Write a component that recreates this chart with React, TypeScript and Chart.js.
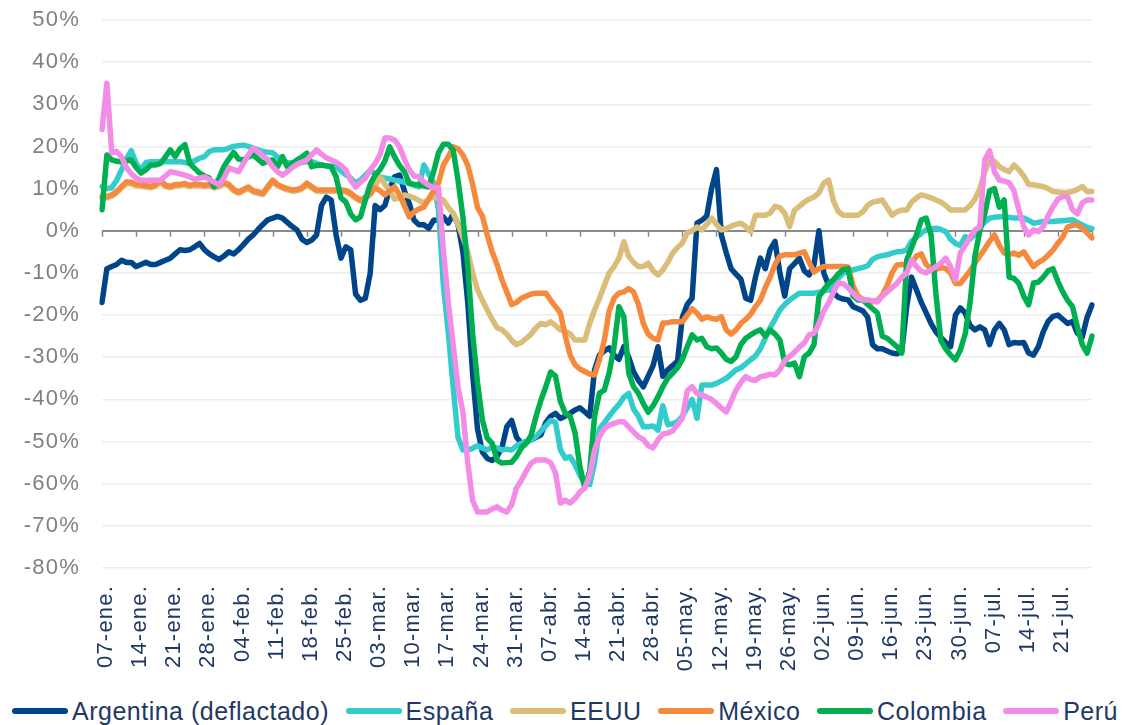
import React, { useEffect, useRef } from "react";
import { Chart, registerables } from "chart.js";

Chart.register(...registerables);

const tickLabels = [
  "07-ene.", "14-ene.", "21-ene.", "28-ene.", "04-feb.", "11-feb.", "18-feb.", "25-feb.",
  "03-mar.", "10-mar.", "17-mar.", "24-mar.", "31-mar.", "07-abr.", "14-abr.", "21-abr.",
  "28-abr.", "05-may.", "12-may.", "19-may.", "26-may.", "02-jun.", "09-jun.", "16-jun.",
  "23-jun.", "30-jun.", "07-jul.", "14-jul.", "21-jul.",
];

const monthNames = ["ene.", "feb.", "mar.", "abr.", "may.", "jun.", "jul.", "ago.", "sep.", "oct.", "nov.", "dic."];

const argentina = [
  -17, -9, -8.5, -8, -7, -7.5, -7.5,
  -8.5, -8, -7.5, -8, -8, -7.5, -7,
  -6.5, -5.5, -4.5, -4.7, -4.5, -3.8, -3,
  -4.5, -5.5, -6.2, -6.8, -6, -5, -5.5,
  -4.5, -3.3, -2, -1, 0.3, 1.5, 2.6,
  3, 3.4, 3, 2, 1, 0.2, -2,
  -2.8, -2.2, -1, 6, 8, 7.3, -1,
  -6.5, -3.8, -4.5, -15, -16.5, -16, -10,
  6, 5, 6, 10, 12.8, 13.2, 9.5,
  6.5, 2.5, 1.4, 1.4, 0.6, 2.5, 2.5,
  3.3, 1.8, 4, 1.5, -5, -17, -34,
  -47, -52.5, -54, -54.5, -53.5, -51.5, -46.5,
  -45, -49, -50.4, -50, -49.6, -49, -48.4,
  -45.5, -44, -43.3, -44.5, -44, -43.3, -42.5,
  -42, -43, -44, -33, -29.5, -28.5, -27.8,
  -29.5, -30.5, -27.5, -30, -33.5, -35.5, -37,
  -34.5, -32, -27.5, -34.5, -33, -32, -31,
  -20.5, -17.5, -16, 1.8, 2.5, 3.5, 10,
  14.5, -1, -5.2, -9, -10.3, -11.5, -16,
  -16.5, -11, -6.5, -9, -4.5, -2.5, -10,
  -15.5, -9, -7.8, -6.5, -9.5, -10.5, -8,
  0, -10, -13, -14.8, -15.8, -16.2, -16.4,
  -18, -18.5, -19, -20.5, -27, -28, -28,
  -28.5, -29, -29.2, -28.5, -18, -11, -14,
  -17, -19.5, -22, -24, -25.3, -26.5, -27.5,
  -20, -18.3, -19.5, -22.5, -23.5, -22.8, -23.5,
  -27, -23.5, -22, -23.5, -27, -26.5, -26.6,
  -26.5, -29, -29.5, -27.5, -24, -21.5, -20.3,
  -20, -21, -22, -21.5, -24.3, -25.2, -20.5,
  -17.6,
];

const espana = [
  10.5, 10, 10.2, 12, 14.4, 17, 19,
  16, 14.4, 16.2, 16.4, 16.4, 16.4, 16.4,
  16.4, 16.4, 16.4, 16.2, 16, 16.6, 17.2,
  17.6, 18.8, 19.2, 19.2, 19.2, 19.6, 20,
  20.2, 20.3, 20, 19.6, 19.2, 18.8, 18.6,
  18.5, 17.5, 16.6, 16.2, 16, 16, 16.2,
  16.4, 16.4, 16, 15.6, 15.4, 15.3, 15.2,
  14.2, 13.3, 12.5, 11.3, 12, 13.2, 14.4,
  13.5, 12.8, 12.5, 12.3, 12, 11.8, 11.5,
  11.2, 10.8, 10.4, 15.6, 13.5, 11.3, 5,
  -13, -24, -37, -49, -52, -52, -51.6,
  -51, -51.5, -52, -51.3, -51.5, -52, -51.8,
  -52, -51, -50.4, -50, -49.6, -48.8, -47.5,
  -46.3, -45, -45.5, -52, -54, -53.6, -55.5,
  -58, -60, -60.2, -55, -47, -45.5, -44,
  -42.5, -41.2, -39.5, -38.6, -42.3, -44, -46.5,
  -46.5, -46.3, -47.3, -41.5, -46, -45.8, -45.3,
  -44, -42, -40, -44.5, -36.6, -36.6, -36.6,
  -36.2, -35.6, -35, -34, -33, -32.5, -31.6,
  -30.6, -29.7, -28, -25.5, -23, -21, -18.8,
  -17.5, -16.4, -15.6, -14.8, -14.8, -14.8, -14.8,
  -14.6, -14.3, -14, -12.8, -11.3, -10, -9.6,
  -9.3, -9, -8.7, -8.3, -6.8, -6.2, -5.9,
  -5.7, -5.3, -5, -4.9, -4.6, -2.5, -1.5,
  -0.5, 0.2, 0.4, 0.6, 0.3, -0.2, -2,
  -3, -3.5, -1.4, -2, -0.8, 0.9, 2,
  3, 3.2, 3.3, 3.3, 3.2, 3, 3,
  3, 2.5, 1.8, 2, 2.2, 2.2, 2.2,
  2.3, 2.4, 2.5, 2.6, 2, 1.4, 0.8,
  0.5,
];

const eeuu = [
  7.8, 7.8, 8.2, 9, 10.2, 11.2, 11.1,
  10.7, 10.6, 10.4, 10.2, 10.6, 11.5, 10.5,
  10.2, 10.7, 10.7, 10.9, 10.5, 10.7, 10.7,
  10.5, 10.7, 10.2, 10.5, 11.1, 10.7, 9.5,
  8.9, 9.5, 10, 9.2, 8.9, 8.6, 10.1,
  11.5, 10.7, 10.1, 9.7, 9.4, 9.5, 9.9,
  10.9, 10.2, 9.4, 9.4, 9.4, 9.4, 9.4,
  9.4, 9.2, 8.6, 7.7, 7, 7.7, 8.6,
  10.5, 12.8, 11, 9.7, 7.5, 7.8, 8.5,
  8.2, 7.8, 7.2, 6.6, 7.5, 8, 7.6,
  7.3, 5.5, 4.2, 1.5, -1.5, -5, -10,
  -14, -16.5, -18.8, -21, -23, -23.5, -24.5,
  -26, -27, -26.5, -25.5, -24.5, -23, -22,
  -22.3, -21.6, -22.5, -23.5, -23.8, -24.5, -25.9,
  -25.9, -25.9, -22, -18.8, -16, -13, -10,
  -8.5, -6.5, -2.6, -6, -7.5, -8.5, -8.5,
  -7.7, -9.5, -10.5, -9.3, -7.5, -5.3, -4,
  -2.9, -0.5, 0, 0.9, 0.2, 1.5, 3,
  1.5, 0.2, 0.5, 1.1, 1.5, 1.8, 1,
  -0.2, 3.7, 3.7, 3.7, 4.2, 5.8, 5.5,
  4.2, 1, 4.9, 5.8, 6.8, 7.5, 8,
  9, 11.3, 12, 7, 4.5, 3.7, 3.7,
  3.7, 3.7, 4.5, 6, 6.8, 7, 7.3,
  5.5, 3.7, 4.5, 4.9, 4.9, 6.8, 7.8,
  8.5, 8.2, 7.8, 7.3, 6.8, 6, 4.9,
  4.9, 4.9, 4.9, 6, 7.5, 10, 14,
  16.5, 16.5, 15.2, 14.5, 14, 15.6, 14.5,
  13, 11, 10.9, 10.7, 10.5, 10, 9.3,
  9.2, 9, 9.1, 9.3, 9.8, 10.5, 9.3,
  9.3,
];

const mexico = [
  8.1, 8.1, 8.5, 9.3, 10.5, 11.6, 11.5,
  11, 10.9, 10.7, 10.5, 11, 12, 10.8,
  10.5, 11, 11, 11.2, 10.8, 11, 11,
  10.8, 11, 10.5, 10.8, 11.5, 11, 9.8,
  9.2, 9.8, 10.4, 9.5, 9.2, 8.9, 10.5,
  12, 11, 10.4, 10, 9.7, 9.8, 10.2,
  11.3, 10.5, 9.7, 9.7, 9.7, 9.7, 9.7,
  9.7, 9.5, 8.9, 8, 7.3, 8, 8.9,
  10.2, 9.5, 8.5, 9.5, 10.4, 8.5, 6,
  3.3, 4.5, 5.2, 5.6, 7.5, 9.5, 11.3,
  15.6, 17.5, 19.9, 19.5, 18, 15.5, 11,
  5.5, 3.5, -1, -5, -8, -11.6, -14.5,
  -17.5, -17, -16, -15.5, -15, -14.8, -14.8,
  -14.8, -16.5, -18, -19.5, -25, -29.5, -31.8,
  -32.8, -33.4, -34, -34.2, -30.6, -26, -19,
  -16, -14.8, -14.5, -13.7, -14.5, -17.5, -22,
  -24.5, -25.5, -25.9, -21.9, -21.8, -21.6, -21.6,
  -21.6, -20, -18.5, -19.5, -21, -20.4, -20.8,
  -21, -20.4, -23.5, -24.5, -23.5, -22, -21,
  -19.8, -18, -16.5, -13.5, -11, -8, -6,
  -5.7, -5.7, -5.7, -5.3, -5, -7.5, -9.8,
  -9, -8.5, -8.5, -8.5, -8.5, -8.5, -8.6,
  -13, -15.5, -16.3, -16.6, -16.9, -16.5, -15.3,
  -13, -10, -8.1, -8, -8.1, -7.8, -6,
  -5.5, -8, -9, -9.2, -8.7, -9, -10,
  -12.5, -12.5, -11, -9.5, -7.7, -6, -4.3,
  -2.5, -1, -3.5, -5.3, -5.6, -5.3, -5.8,
  -5, -6.8, -8.5, -7.5, -6.9, -5.8, -4.6,
  -3, -1.5, 0.9, 1.3, 1.4, 0.6, -0.5,
  -1.7,
];

const colombia = [
  5, 18, 16.8, 16.5, 16.4, 16.6, 16.8,
  15, 13.7, 14.5, 15.6, 15.6, 16, 17.5,
  19.2, 17.6, 19.5, 20.4, 16, 14.8, 13.7,
  13, 12.5, 10.5, 12.5, 15.2, 17, 18.6,
  17, 16.8, 17.5, 18, 17, 16, 16.5,
  16.8, 15.2, 17.6, 15.2, 16, 16.8, 17.5,
  18.4, 15.2, 15.5, 15.6, 15.4, 15.2, 12.8,
  7.8, 6.8, 4, 2.6, 3.3, 7.3, 11,
  13.2, 14.5, 16.5, 19.9, 17.5, 15.5, 14,
  11.3, 11, 10.9, 10.6, 10.4, 14, 18.5,
  20.5, 20.5, 19.2, 12, 3.3, -8.5, -24.3,
  -36, -44.9, -49.2, -50.4, -54.4, -55.1, -55,
  -54.9, -53.5, -51.5, -50.4, -48.5, -44, -40.2,
  -37, -33.5, -34.5, -40.5, -43.3, -44, -48,
  -56, -61, -57, -44, -38.5, -37.8, -33.7,
  -27.5, -18, -20.4, -33.7, -37, -38.6, -41,
  -43, -41.5, -39.4, -37, -35, -33.8, -32.5,
  -30.5, -27.5, -24.7, -25.9, -25.5, -27.5, -28,
  -27.8, -29, -30.5, -31, -29.9, -27, -25.5,
  -24.7, -24, -23.5, -25, -23.5, -24.5, -25.9,
  -31.4, -31.8, -31.4, -34.6, -29.9, -29, -27,
  -15.7, -14, -12.5, -11.6, -10.2, -9.2, -9,
  -15.5, -16.4, -16.4, -17.5, -18.5, -19.5, -25,
  -25.5, -26.5, -27.5, -29, -7, -4, -1,
  2.6, 3, -1, -15, -26, -28, -29.5,
  -30.6, -28.3, -24.5, -17, -6, 0, 4,
  9.5, 10, 5.6, 7.3, -11, -11.3, -12.5,
  -15.5, -17.6, -12.4, -12.2, -11, -9.5, -9,
  -12, -14.5, -16.5, -18, -22.8, -27, -29,
  -25,
];

const peru = [
  24, 35, 18.5, 18.8, 17.5, 15, 13.5,
  12.5, 12, 12, 12, 12, 12, 13,
  14, 13.8, 13.5, 13.2, 12.8, 12.2, 12.5,
  12.8, 12.2, 11.5, 10.9, 12.5, 14.9, 14.5,
  14, 16, 18, 19.6, 18.8, 17.8, 16.8,
  15.2, 14, 13.2, 14, 15, 15.8, 16.3,
  16.8, 18, 19.2, 18.2, 17.3, 16.8, 16.3,
  15.5, 14.4, 12, 10.4, 11.5, 12.5, 14.4,
  16, 18, 22, 22, 21.5, 19.9, 17,
  14.5, 13, 12.8, 11.6, 10.8, 10.2, 10.2,
  -4.6, -17, -27, -37, -43, -55, -64,
  -66.7, -66.7, -66.7, -66, -65.5, -66.3, -66.7,
  -65, -61, -59.2, -57, -55.1, -54.4, -54.4,
  -54.4, -55, -57.5, -64.6, -63.9, -64.6, -63.5,
  -62, -61, -58, -52, -48.9, -47, -46.1,
  -45.7, -45.3, -45.3, -46.5, -47.7, -48.9, -49.5,
  -51, -51.5, -49.6, -48.2, -48, -47.5, -46,
  -44.5, -38, -37, -38.6, -39, -39.4, -40,
  -41, -42, -43, -40.5, -37.8, -36, -34.6,
  -35.3, -35.5, -34.6, -34.4, -34, -34.2, -33,
  -30.8, -29.8, -28.8, -27.6, -26.6, -24.7, -24.3,
  -22, -19, -17.1, -14.5, -12.3, -12.6, -13.5,
  -14.8, -16, -16.4, -16.4, -16.6, -16.9, -15.5,
  -14.5, -13.5, -12.5, -11, -10, -6.9, -8.5,
  -9.6, -10, -9.3, -8.5, -7.7, -6.5, -8.5,
  -11.6, -5.3, -3.5, -1.5, 0.2, 0.9, 16.8,
  19, 14, 12, 11.8, 11.4, 9.5, 5,
  1, -1, 0.2, -0.2, 1, 3.5, 5.7,
  7.5, 8.1, 8.1, 5, 4, 6.6, 7.3,
  7.3,
];

const seriesNames = ["Argentina (deflactado)", "España", "EEUU", "México", "Colombia", "Perú"];
const seriesData = [argentina, espana, eeuu, mexico, colombia, peru];
const seriesColors = ["#00458A", "#33CCCC", "#D9BD78", "#F58A3D", "#00AF50", "#F38CE6"];

const dayCount = argentina.length;
const categories = Array.from({ length: dayCount }, (_, i) => {
  const d = new Date(2020, 0, 7 + i);
  return String(d.getDate()).padStart(2, "0") + "-" + monthNames[d.getMonth()];
});

const FONT = '"Liberation Sans", Arial, Helvetica, sans-serif';
const AXIS_COLOR = "#8A8A8A";

const axisTextSpacing = {
  id: "axisTextSpacing",
  beforeDraw(chart: any) {
    chart.ctx.letterSpacing = "1.2px";
  },
  beforeDatasetsDraw(chart: any) {
    chart.ctx.letterSpacing = "0px";
  },
};

const zeroTicks = {
  id: "zeroTicks",
  beforeDatasetsDraw(chart: any) {
    const { ctx, scales } = chart;
    const x = scales.x;
    const y = scales.y;
    const y0 = y.getPixelForValue(0);
    ctx.save();
    ctx.strokeStyle = AXIS_COLOR;
    ctx.lineWidth = 1.5;
    ctx.beginPath();
    for (let i = 0; i < categories.length; i++) {
      if (i % 7 === 0 || i === categories.length - 1) {
        const px = Math.round(x.getPixelForValue(i)) + 0.5;
        ctx.moveTo(px, y0);
        ctx.lineTo(px, y0 + 6);
      }
    }
    ctx.stroke();
    ctx.restore();
  },
};

export default function App() {
  const canvasRef = useRef<HTMLCanvasElement | null>(null);

  useEffect(() => {
    if (!canvasRef.current) return;
    Chart.defaults.font.family = FONT;
    const chart = new Chart(canvasRef.current, {
      type: "line",
      data: {
        labels: categories,
        datasets: seriesNames.map((name, k) => ({
          label: name,
          data: seriesData[k],
          borderColor: seriesColors[k],
          backgroundColor: seriesColors[k],
          borderWidth: 5.5,
          pointRadius: 0,
          pointHoverRadius: 0,
          tension: 0,
          fill: false,
          borderJoinStyle: "round" as const,
          borderCapStyle: "round" as const,
          order: seriesNames.length - k,
        })),
      },
      options: {
        animation: false,
        responsive: true,
        maintainAspectRatio: false,
        layout: { padding: { top: 20, right: 30, left: 0, bottom: 0 } },
        plugins: {
          legend: { display: false },
          tooltip: { enabled: false },
        },
        scales: {
          x: {
            type: "category",
            offset: false,
            grid: { display: false, drawTicks: false },
            border: { display: false },
            afterFit: (s: any) => {
              s.height = 129;
              s.paddingRight = 0;
            },
            ticks: {
              autoSkip: false,
              maxRotation: 90,
              minRotation: 90,
              padding: 17,
              labelOffset: 4,
              color: "#1F3864",
              font: { size: 22, family: FONT },
              callback: (_v: any, idx: number) => (idx % 7 === 0 ? tickLabels[idx / 7] : ""),
            },
          },
          y: {
            min: -80,
            max: 50,
            afterFit: (s: any) => {
              s.width = 102;
              s.paddingTop = 0;
              s.paddingBottom = 0;
            },
            border: { display: false },
            grid: {
              drawTicks: false,
              color: (c: any) => (c.tick && c.tick.value === 0 ? AXIS_COLOR : "#EDEDED"),
              lineWidth: (c: any) => (c.tick && c.tick.value === 0 ? 2 : 1.5),
            },
            ticks: {
              stepSize: 10,
              padding: 22,
              color: "#808080",
              font: { size: 22, family: FONT },
              callback: (v: any) => v + "%",
            },
          },
        },
      },
      plugins: [axisTextSpacing, zeroTicks],
    });
    return () => chart.destroy();
  }, []);

  return (
    <div
      style={{
        position: "fixed",
        left: 0,
        top: 0,
        width: 1122,
        height: 725,
        background: "#ffffff",
        overflow: "hidden",
      }}
    >
      <div style={{ position: "absolute", left: 0, top: 0, width: 1122, height: 697 }}>
        <canvas ref={canvasRef} />
      </div>
      <div
        style={{
          position: "absolute",
          left: 12,
          right: 4,
          top: 697,
          height: 28,
          display: "flex",
          justifyContent: "space-between",
          alignItems: "center",
        }}
      >
        {seriesNames.map((name, k) => (
          <div key={name} style={{ display: "flex", alignItems: "center" }}>
            <span
              style={{
                display: "inline-block",
                width: 56,
                height: 6,
                borderRadius: 3,
                background: seriesColors[k],
                marginRight: 4,
              }}
            />
            <span
              style={{
                fontFamily: FONT,
                fontSize: 25,
                lineHeight: "28px",
                letterSpacing: "0.5px",
                color: "#1F3864",
                whiteSpace: "nowrap",
              }}
            >
              {name}
            </span>
          </div>
        ))}
      </div>
    </div>
  );
}
